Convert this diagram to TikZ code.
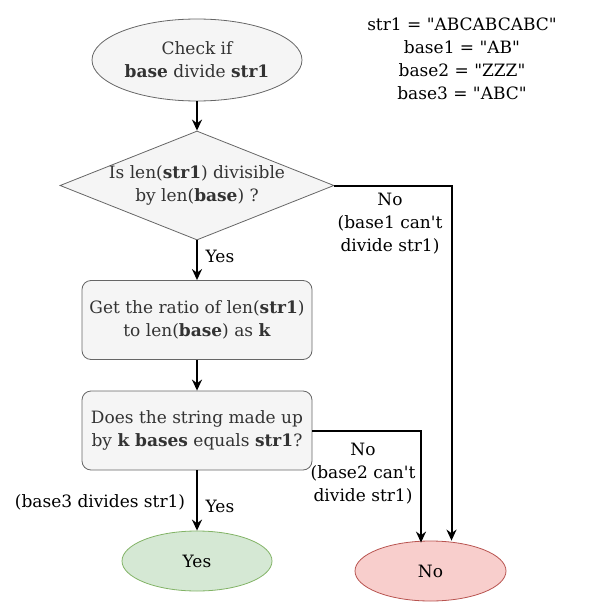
\documentclass[tikz,border=0pt]{standalone}
\usepackage{fontspec}
\setmainfont{DejaVu Serif}[Ligatures=TeXOff]
\usetikzlibrary{shapes.geometric,arrows.meta,calc}
\definecolor{gfill}{HTML}{F5F5F5}
\definecolor{gline}{HTML}{666666}
\definecolor{gtext}{HTML}{333333}
\definecolor{yfill}{HTML}{D5E8D4}
\definecolor{yline}{HTML}{82B366}
\definecolor{nfill}{HTML}{F8CECC}
\definecolor{nline}{HTML}{B85450}
\begin{document}
\begin{tikzpicture}[x=1pt,y=-1pt,
  every node/.style={font=\fontsize{17}{23}\selectfont, align=center, inner sep=0pt},
  grayshape/.style={fill=gfill, draw=gline, text=gtext, line width=0.8pt},
  startell/.style={grayshape, ellipse, minimum width=210pt, minimum height=82pt},
  decision/.style={grayshape, diamond, minimum width=274pt, minimum height=109pt},
  procbox/.style={grayshape, rectangle, rounded corners=9pt, minimum width=230pt, minimum height=79pt},
  yesell/.style={ellipse, fill=yfill, draw=yline, line width=0.8pt, minimum width=150pt, minimum height=60pt},
  noell/.style={ellipse, fill=nfill, draw=nline, line width=0.8pt, minimum width=151pt, minimum height=60pt},
  flow/.style={draw=black, line width=2pt, -{Stealth[length=11pt,width=10pt]}},
  lbl/.style={text=black}
]
\useasboundingbox (0,0) rectangle (602,602);

\node[startell] (start) at (197,60) {Check if\\\textbf{base} divide \textbf{str1}};
\node[decision, label={[text=gtext, align=center]center:Is len(\textbf{str1}) divisible\\by len(\textbf{base}) ?}] (dec) at (197,185.5) {};
\node[procbox] (ratio) at (197,320) {Get the ratio of len(\textbf{str1})\\to len(\textbf{base}) as \textbf{k}};
\node[procbox] (check) at (197,430.5) {Does the string made up\\by \textbf{k bases} equals \textbf{str1}?};
\node[yesell] (yes) at (197,561) {Yes};
\node[noell] (no) at (430.5,571) {No};

\node[lbl] (info) at (462,59) {str1 = "ABCABCABC"\\base1 = "AB"\\base2 = "ZZZ"\\base3 = "ABC"};

\coordinate (c1) at ($(no.north)+(21,0)$);
\coordinate (c2) at ($(no.north)+(-9.5,2)$);

\draw[flow] (start) -- (dec);
\draw[flow] (dec) -- (ratio);
\draw[flow] (ratio) -- (check);
\draw[flow] (check) -- (yes);
\draw[flow] (dec.east) -| (c1);
\draw[flow] (check.east) -| (c2);

\node[lbl] (yes1) at (220,256) {Yes};
\node[lbl] (yes2) at (220,506) {Yes};
\node[lbl] (b3) at (100,502) {(base3 divides str1)};
\node[lbl] (no1) at (390,224) {No\\(base1 can't\\divide str1)};
\node[lbl] (no2) at (363,474) {No\\(base2 can't\\divide str1)};
\end{tikzpicture}
\end{document}
